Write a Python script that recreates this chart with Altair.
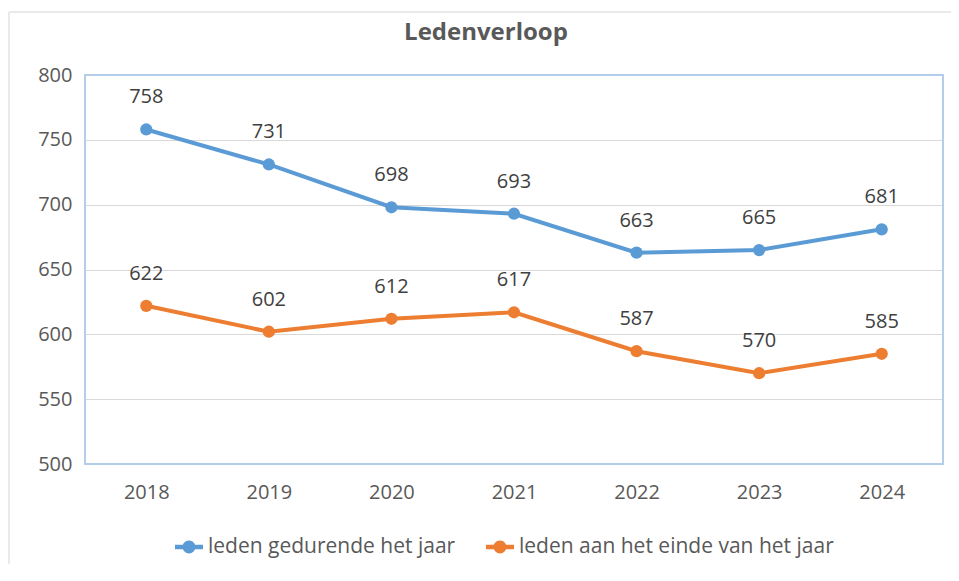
import altair as alt
import pandas as pd

years = ["2018", "2019", "2020", "2021", "2022", "2023", "2024"]
series_names = ["leden gedurende het jaar", "leden aan het einde van het jaar"]
during_year = [758, 731, 698, 693, 663, 665, 681]
end_of_year = [622, 602, 612, 617, 587, 570, 585]
y_ticks = [500, 550, 600, 650, 700, 750, 800]
colors = ["#5b9bd5", "#ed7d31"]
title_text = "Ledenverloop"

rows = []
for y, v in zip(years, during_year):
    rows.append({"jaar": y, "leden": v, "reeks": series_names[0]})
for y, v in zip(years, end_of_year):
    rows.append({"jaar": y, "leden": v, "reeks": series_names[1]})
df = pd.DataFrame(rows)

FONT = "Open Sans"
W, H = 858, 389

x_enc = alt.X("jaar:O", sort=years, scale=alt.Scale(type="point", padding=0.5),
              axis=alt.Axis(labelAngle=0, labelPadding=18, ticks=False, domain=False,
                            title=None, labelFontSize=20, labelFont=FONT,
                            labelColor="#595959", grid=False))
y_enc = alt.Y("leden:Q", scale=alt.Scale(domain=[500, 800], nice=False, zero=False),
              axis=alt.Axis(values=y_ticks, labelPadding=13, ticks=False, domain=False,
                            title=None, labelFontSize=20, labelFont=FONT,
                            labelColor="#595959", gridColor="#d9d9d9", gridWidth=1))

legend_path = ("M-1,-0.16L1,-0.16L1,0.16L-1,0.16Z"
               "M0.46,0A0.46,0.46 0 1,1 -0.46,0A0.46,0.46 0 1,1 0.46,0Z")
legend = alt.Legend(title=None, orient="none", direction="horizontal",
                    legendX=90, legendY=458, padding=0,
                    symbolType=legend_path, symbolSize=784,
                    symbolStrokeWidth=0, symbolOpacity=1,
                    labelFontSize=21, labelFont=FONT, labelLimit=600,
                    labelColor="#595959", labelOffset=5, columnPadding=30)
color_enc = alt.Color("reeks:N", scale=alt.Scale(domain=series_names, range=colors),
                      sort=series_names, legend=legend)

base = alt.Chart(df)

lines = base.mark_line(strokeWidth=4).encode(x=x_enc, y=y_enc, color=color_enc)

points = base.mark_point(filled=True, size=150, opacity=1, shape="circle").encode(
    x=x_enc, y=y_enc, color=color_enc)

labels = base.mark_text(dy=-32, fontSize=20, font=FONT, color="#404040").encode(
    x=x_enc, y=y_enc, text="leden:Q",
)

one = alt.Data(values=[{"a": 1}])
border = alt.Chart(one).mark_rect(fill=None, stroke="#b4cdea", strokeWidth=2).encode(
    x=alt.value(0), x2=alt.value(W), y=alt.value(0), y2=alt.value(H))
outer_left = alt.Chart(one).mark_rule(color="#e3e3e3", strokeWidth=1.5).encode(
    x=alt.value(-76), y=alt.value(-63), y2=alt.value(600))
outer_top = alt.Chart(one).mark_rule(color="#e3e3e3", strokeWidth=1.5).encode(
    x=alt.value(-76), x2=alt.value(1000), y=alt.value(-63))
title = alt.Chart(one).mark_text(fontSize=24, font=FONT, fontWeight="bold",
                                 color="#595959", align="center",
                                 baseline="alphabetic").encode(
    x=alt.value(401), y=alt.value(-35), text=alt.value(title_text))

chart = alt.layer(outer_left, outer_top, lines, points, labels, border, title).properties(
    width=W, height=H,
    autosize=alt.AutoSizeParams(type="none"),
    padding={"left": 77, "top": 67, "right": 8, "bottom": 100},
).configure_view(stroke=None)

chart.save("out.html", embed_options={"renderer": "svg", "actions": False})
